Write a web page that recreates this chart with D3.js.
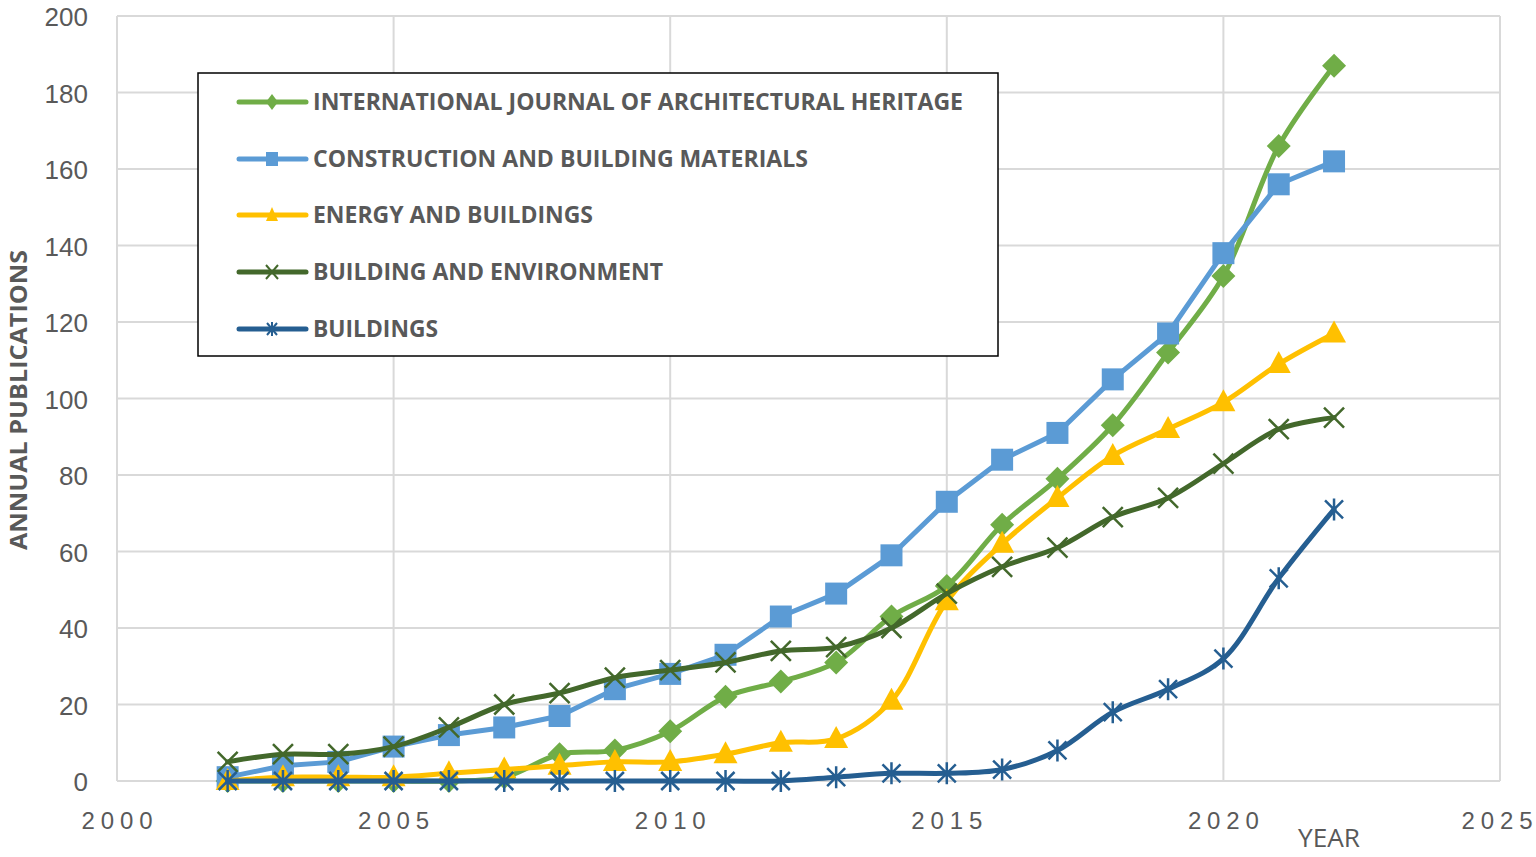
<!DOCTYPE html>
<html><head><meta charset="utf-8">
<script src="https://cdnjs.cloudflare.com/ajax/libs/d3/7.8.5/d3.min.js"></script>
<style>body{margin:0;background:#fff}</style>
</head><body><svg id="c" width="1536" height="857"></svg>
<script>
const years = [2002,2003,2004,2005,2006,2007,2008,2009,2010,2011,2012,2013,2014,2015,2016,2017,2018,2019,2020,2021,2022];
const seriesNames = ["INTERNATIONAL JOURNAL OF ARCHITECTURAL HERITAGE","CONSTRUCTION AND BUILDING MATERIALS","ENERGY AND BUILDINGS","BUILDING AND ENVIRONMENT","BUILDINGS"];
const ijah = [0,0,0,0,0,1,7,8,13,22,26,31,43,51,67,79,93,112,132,166,187];
const cbm  = [1,4,5,9,12,14,17,24,28,33,43,49,59,73,84,91,105,117,138,156,162];
const enb  = [0,1,1,1,2,3,4,5,5,7,10,11,21,47,62,74,85,92,99,109,117];
const bne  = [5,7,7,9,14,20,23,27,29,31,34,35,40,49,56,61,69,74,83,92,95];
const bld  = [0,0,0,0,0,0,0,0,0,0,0,1,2,2,3,8,18,24,32,53,71];
const xTicks = [2000,2005,2010,2015,2020,2025];
const yTicks = [0,20,40,60,80,100,120,140,160,180,200];

const colors = ["#70AD47","#5B9BD5","#FFC000","#43682B","#255E91"];
const markers = ["diamond","square","triangle","x","star"];
const data = [ijah,cbm,enb,bne,bld];

const svg = d3.select("#c");
const x = d3.scaleLinear().domain([2000,2025]).range([117,1500]);
const y = d3.scaleLinear().domain([0,200]).range([781,16]);

// gridlines
svg.append("g").selectAll("line").data(yTicks).join("line")
  .attr("x1",x(2000)).attr("x2",x(2025)).attr("y1",d=>y(d)).attr("y2",d=>y(d))
  .attr("stroke","#d9d9d9").attr("stroke-width",2);
svg.append("g").selectAll("line").data(xTicks).join("line")
  .attr("y1",y(0)).attr("y2",y(200)).attr("x1",d=>x(d)).attr("x2",d=>x(d))
  .attr("stroke","#d9d9d9").attr("stroke-width",2);

// tick labels
svg.append("g").selectAll("text").data(yTicks).join("text")
  .attr("x",88).attr("y",d=>y(d)+10).attr("text-anchor","end")
  .attr("font-family","Liberation Sans, Arial, sans-serif").attr("font-size",26).attr("fill","#595959")
  .text(d=>d);
svg.append("g").selectAll("text").data(xTicks).join("text")
  .attr("x",d=>Math.min(x(d),1497)).attr("y",829).attr("text-anchor","middle")
  .attr("font-family","Liberation Sans, Arial, sans-serif").attr("font-size",24).attr("fill","#595959")
  .attr("textLength",71).attr("lengthAdjust","spacing")
  .text(d=>d);
svg.append("text").attr("x",1329).attr("y",847).attr("text-anchor","middle")
  .attr("font-family","Open Sans, sans-serif").attr("font-size",26).attr("fill","#595959")
  .attr("textLength",62).attr("lengthAdjust","spacingAndGlyphs").text("YEAR");
svg.append("text").attr("transform","translate(27,400) rotate(-90)").attr("text-anchor","middle")
  .attr("font-family","Liberation Sans Narrow, Open Sans, sans-serif").attr("font-weight","bold")
  .attr("font-size",24).attr("fill","#595959").attr("textLength",300).attr("lengthAdjust","spacingAndGlyphs")
  .text("ANNUAL PUBLICATIONS");

function markerPath(type){
  switch(type){
    case "diamond": return "M0,-12L12,0L0,12L-12,0Z";
    case "square": return "M-11,-11H11V11H-11Z";
    case "triangle": return "M0,-13L12,9H-12Z";
    case "x": return "M-10,-10L10,10M-10,10L10,-10";
    case "star": return "M-9,-9L9,9M-9,9L9,-9M0,-11L0,11";
  }
}
function legendMarker(type){
  switch(type){
    case "diamond": return "M0,-8L6,0L0,8L-6,0Z";
    case "square": return "M-6,-7H6V7H-6Z";
    case "triangle": return "M0,-8L6,6H-6Z";
    case "x": return "M-6,-7L6,7M-6,7L6,-7";
    case "star": return "M-5,-6L5,6M-5,6L5,-6M0,-7L0,7";
  }
}

const curves = [d3.curveCatmullRom.alpha(0.5), d3.curveLinear, d3.curveCatmullRom.alpha(0.5), d3.curveCatmullRom.alpha(0.5), d3.curveCatmullRom.alpha(0.5)];
const widths = [5,5,5,5,5];

[0,1,2,3,4].forEach(i=>{
  const pts = years.map((yr,k)=>[yr,data[i][k]]);
  const line = d3.line().x(d=>x(d[0])).y(d=>y(d[1])).curve(curves[i]);
  const g = svg.append("g");
  g.append("path").attr("d",line(pts)).attr("fill","none").attr("stroke",colors[i])
    .attr("stroke-width",widths[i]).attr("stroke-linejoin","round").attr("stroke-linecap","round");
  const isStroke = markers[i]==="x"||markers[i]==="star";
  g.selectAll("path.m").data(pts).join("path").attr("class","m")
    .attr("transform",d=>`translate(${x(d[0])},${y(d[1])})`)
    .attr("d",markerPath(markers[i]))
    .attr("fill",isStroke?"none":colors[i])
    .attr("stroke",isStroke?colors[i]:"none").attr("stroke-width",2.5);
});

// legend
const lg = svg.append("g");
lg.append("rect").attr("x",198).attr("y",73).attr("width",800).attr("height",283)
  .attr("fill","#fff").attr("stroke","#000").attr("stroke-width",1.5);
const legendY = [102,159,215,272,329];
const legendLen = [650,495,280,350,125];
seriesNames.forEach((name,i)=>{
  const ly = legendY[i];
  lg.append("line").attr("x1",239).attr("x2",306).attr("y1",ly).attr("y2",ly)
    .attr("stroke",colors[i]).attr("stroke-width",5).attr("stroke-linecap","round");
  const isStroke = markers[i]==="x"||markers[i]==="star";
  lg.append("path").attr("transform",`translate(272,${ly})`).attr("d",legendMarker(markers[i]))
    .attr("fill",isStroke?"none":colors[i]).attr("stroke",isStroke?colors[i]:"none").attr("stroke-width",2);
  lg.append("text").attr("x",313).attr("y",ly+8)
    .attr("font-family","Liberation Sans Narrow, Open Sans, sans-serif").attr("font-weight","bold")
    .attr("font-size",23).attr("fill","#595959")
    .attr("textLength",legendLen[i]).attr("lengthAdjust","spacingAndGlyphs")
    .text(name);
});
</script></body></html>
